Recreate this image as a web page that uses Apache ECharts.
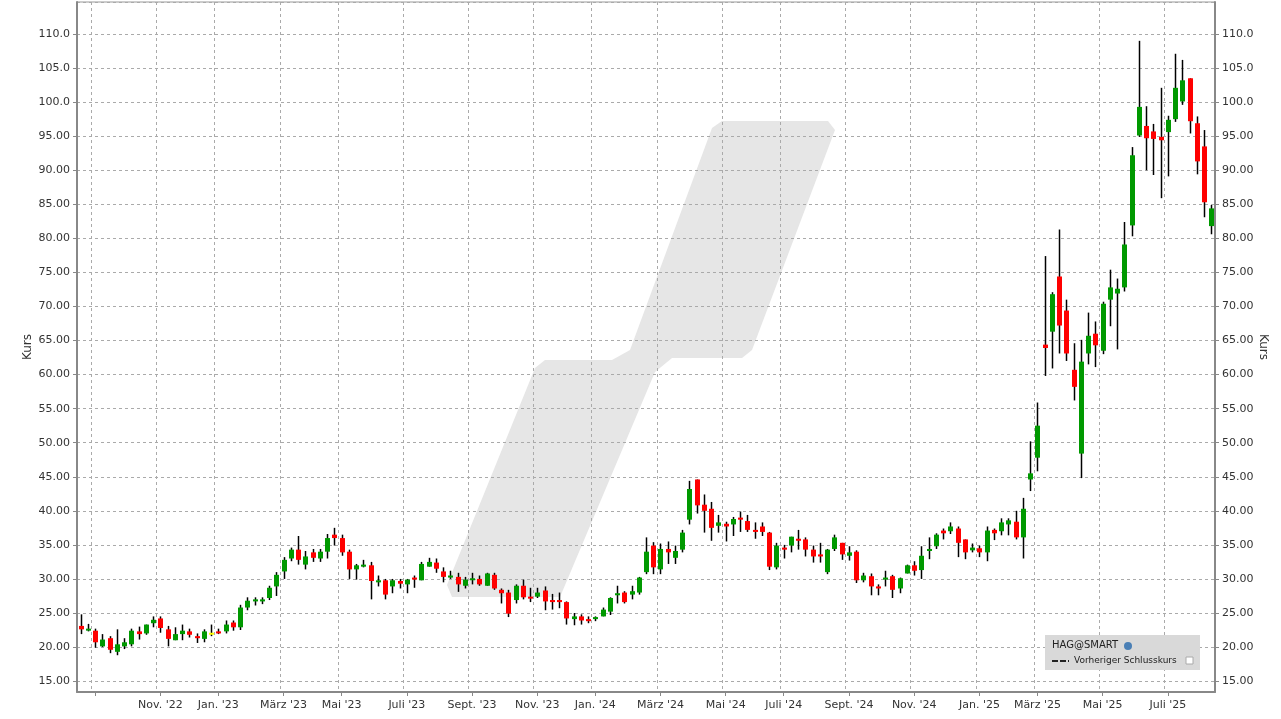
<!DOCTYPE html>
<html><head><meta charset="utf-8">
<script src="https://cdn.jsdelivr.net/npm/echarts@6/dist/echarts.min.js"></script>
<style>html,body{margin:0;padding:0;background:#fff;overflow:hidden}#c{width:1281px;height:719px}</style>
</head><body><div id="c"></div>
<script>
const startDate = '2022-08-22';
const open  = [23.1,22.5,22.4,20.1,21.3,19.3,20.1,20.4,22.3,22.0,23.5,24.2,22.6,21.0,21.9,22.3,21.6,21.2,22.1,22.3,22.3,23.6,22.9,25.8,26.7,26.7,27.2,28.9,31.1,33.0,34.3,32.1,33.9,33.0,34.0,36.5,36.0,34.0,31.4,31.8,32.0,29.5,29.8,28.9,29.7,29.2,30.2,29.8,31.8,32.4,31.1,30.2,30.3,29.0,29.9,30.0,29.0,30.6,28.4,28.0,26.9,29.0,27.4,27.4,28.3,26.9,26.9,26.6,24.1,24.5,24.1,24.1,24.5,25.2,27.6,28.0,27.7,28.0,31.0,34.9,31.4,34.4,33.1,34.3,38.7,44.6,40.9,40.3,37.8,38.1,38.0,39.0,38.5,37.2,37.7,36.8,31.7,34.6,34.9,35.9,35.8,34.3,33.6,31.0,34.4,35.3,33.4,34.0,29.8,30.4,28.9,29.9,30.4,28.6,30.8,32.0,31.3,34.1,34.8,37.1,37.0,37.4,35.8,34.2,34.5,33.9,37.2,37.0,38.0,38.4,36.1,44.6,47.8,64.4,66.3,74.4,69.4,60.7,48.4,63.1,66.0,63.5,71.0,71.9,72.8,81.9,95.1,96.5,95.7,94.9,95.6,97.5,100.1,103.5,96.9,93.5,81.8];
const close = [22.6,22.7,20.7,21.1,19.6,20.4,20.7,22.4,21.9,23.3,24.0,22.8,21.2,21.9,22.4,21.8,21.3,22.3,22.1,22.0,23.3,22.9,25.8,26.8,27.0,27.0,28.7,30.6,32.8,34.3,32.8,33.3,33.1,34.0,36.0,36.0,33.9,31.4,32.0,32.1,29.7,29.8,27.7,29.8,29.3,29.9,29.9,32.2,32.5,31.5,30.3,30.5,29.2,29.9,30.1,29.2,30.8,28.6,27.9,24.9,29.0,27.3,27.2,28.0,26.7,26.6,26.6,24.2,24.5,23.9,23.8,24.4,25.5,27.2,27.9,26.6,28.2,30.2,34.0,31.7,34.4,33.9,34.1,36.8,43.2,40.8,40.0,37.5,38.3,37.7,38.8,38.7,37.2,36.9,36.9,31.8,34.9,34.3,36.2,35.6,34.3,33.3,33.3,34.3,36.1,33.6,33.9,29.8,30.5,28.9,28.6,30.2,28.4,30.1,32.0,31.2,33.4,34.4,36.5,36.7,37.7,35.3,33.9,34.6,33.9,37.1,36.7,38.3,38.6,36.1,40.3,45.5,52.5,63.9,71.8,67.2,63.1,58.2,61.9,65.7,64.3,70.4,72.8,72.6,79.1,92.2,99.3,94.7,94.6,94.4,97.4,102.1,103.2,97.2,91.3,85.3,84.4];
const low   = [21.9,22.3,19.9,20.0,19.1,18.8,19.7,20.1,21.1,21.8,22.9,22.1,20.1,21.0,21.0,21.4,20.6,20.7,21.6,21.9,22.0,22.4,22.5,25.4,26.1,26.3,26.9,27.5,30.0,32.6,32.1,31.4,32.5,32.5,33.0,34.9,33.4,30.0,29.9,31.7,27.0,28.9,27.0,27.9,28.6,27.9,28.7,29.8,31.8,30.9,29.5,30.0,28.1,28.6,29.2,29.0,29.0,28.4,26.4,24.4,26.4,27.0,26.6,27.2,25.4,25.5,25.7,23.3,23.2,23.3,23.5,23.8,24.5,24.7,26.4,26.4,27.0,27.7,30.7,30.7,30.7,32.2,32.2,33.9,38.0,39.6,36.8,35.6,36.8,35.5,36.3,36.9,36.9,35.9,36.3,31.3,31.4,33.0,33.9,34.3,33.3,32.4,32.4,30.7,34.1,32.8,32.7,29.4,29.5,27.6,27.6,28.9,27.2,27.9,30.8,30.5,30.0,32.9,34.4,35.8,36.6,33.2,32.9,33.9,33.2,32.6,35.7,36.4,36.4,35.8,33.0,42.9,45.8,59.8,60.9,63.1,62.0,56.2,44.8,61.5,61.1,63.0,67.1,63.7,72.2,80.3,94.9,90.0,89.3,85.9,89.1,97.1,99.6,95.4,89.4,83.1,80.6];
const high  = [24.8,23.4,22.7,21.9,21.6,22.6,21.3,22.7,23.0,23.3,24.5,24.5,23.1,22.9,23.3,22.7,22.0,22.6,23.3,22.7,23.9,23.9,26.2,27.3,27.3,27.3,29.0,31.0,33.2,34.6,36.3,34.1,34.4,34.4,36.6,37.5,36.5,34.3,32.2,32.8,32.5,30.5,30.0,30.0,30.0,30.0,30.5,32.5,33.1,33.0,31.7,31.2,30.9,30.3,30.9,30.5,30.9,30.9,28.6,28.4,29.2,29.9,28.7,28.7,28.9,27.8,28.0,26.7,25.0,24.8,24.5,24.5,25.8,27.3,29.0,28.2,29.0,30.3,36.1,35.4,35.2,35.5,34.9,37.2,44.4,44.6,42.4,41.3,39.4,38.4,39.1,39.9,39.4,38.3,38.3,36.9,35.3,35.0,36.2,37.2,36.1,34.9,35.3,34.4,36.5,35.3,34.8,34.2,30.9,30.8,29.2,31.2,30.6,30.2,32.1,32.6,34.8,36.1,36.7,37.4,38.3,37.7,35.8,35.2,34.9,37.7,37.4,38.9,38.9,40.0,41.9,50.2,55.9,77.4,72.1,81.3,71.0,64.6,65.1,69.1,67.8,70.7,75.4,74.1,82.4,93.4,109.0,99.4,96.8,102.1,98.0,107.1,106.2,103.5,97.9,95.9,84.9];
const monthNames = ['Jan.','Feb.','März','Apr.','Mai','Juni','Juli','Aug.','Sept.','Okt.','Nov.','Dez.'];

const d0 = new Date(startDate + 'T00:00:00Z');
const cats = open.map((_, i) => new Date(d0.getTime() + i * 7 * 86400000));
const isMark = i => { const d = cats[i]; return d.getUTCDate() <= 7 && d.getUTCMonth() % 2 === 0; };
const catLabels = cats.map(d => monthNames[d.getUTCMonth()] + " '" + String(d.getUTCFullYear()).slice(2));
const data = open.map((o, i) => [i, o, close[i], low[i], high[i]]);

const fmt = v => v >= 100 ? v.toFixed(1) : v.toFixed(2);
const chart = echarts.init(document.getElementById('c'));
const yBase = {
  type: 'value', min: 13.4, max: 114.7, splitNumber: 20,
  name: 'Kurs', nameLocation: 'middle', nameGap: 43, nameMoveOverlap: false,
  nameTextStyle: {color: '#333', fontSize: 12, fontFamily: 'DejaVu Sans'},
  axisLine: {show: true, lineStyle: {color: '#888', width: 2}},
  axisTick: {show: true, length: 4, lineStyle: {color: '#888'}},
  axisLabel: {formatter: fmt, color: '#333', fontSize: 11, fontFamily: 'DejaVu Sans', margin: 7, showMinLabel: false, showMaxLabel: false},
};
chart.setOption({
  animation: false,
  backgroundColor: '#fff',
  grid: {left: 77, right: 66, top: 2, bottom: 27, show: true, borderColor: '#999', borderWidth: 1, outerBoundsMode: 'none', containLabel: false},
  graphic: [
    {type: 'polygon', z: -1, silent: true,
     shape: {points: [[447,585],[535,368],[545,360],[612,360],[630,350],[712,128],[722,121],[828,121],[835,130],[752,350],[742,358],[672,358],[655,372],[560,597],[452,597]]},
     style: {fill: '#e6e6e6'}},
    {type: 'rect', shape: {x: 1045, y: 635, width: 155, height: 35}, style: {fill: '#d9d9d9'}, z: 10},
    {type: 'text', x: 1052, y: 640, style: {text: 'HAG@SMART', fontSize: 10, fontFamily: 'DejaVu Sans', fill: '#222'}, z: 11},
    {type: 'circle', shape: {cx: 1128, cy: 646, r: 4}, style: {fill: '#4a7fb5'}, z: 11},
    {type: 'line', shape: {x1: 1052, y1: 661, x2: 1069, y2: 661}, style: {stroke: '#222', lineWidth: 2, lineDash: [6,2]}, z: 11},
    {type: 'text', x: 1074, y: 656, style: {text: 'Vorheriger Schlusskurs', fontSize: 9, fontFamily: 'DejaVu Sans', fill: '#222'}, z: 11},
    {type: 'rect', shape: {x: 1186, y: 657, width: 7, height: 7}, style: {fill: '#fff', stroke: '#aaa'}, z: 11}
  ],
  xAxis: {
    type: 'category', data: catLabels, boundaryGap: true,
    axisLine: {show: true, lineStyle: {color: '#888', width: 2}},
    axisTick: {show: true, alignWithLabel: true, interval: i => isMark(i), length: 4, lineStyle: {color: '#888'}},
    axisLabel: {interval: i => isMark(i) && i > 5, color: '#333', fontSize: 11, fontFamily: 'DejaVu Sans', margin: 8},
    splitLine: {show: true, interval: i => isMark(i), lineStyle: {color: '#aaa', type: [3,3]}}
  },
  yAxis: [
    Object.assign({}, yBase, {position: 'left', splitLine: {show: true, lineStyle: {color: '#aaa', type: [3,3]}}}),
    Object.assign({}, yBase, {position: 'right', nameGap: 42, nameRotate: -90, splitLine: {show: false}})
  ],
  series: [{
    type: 'custom', data: data, encode: {x: 0, y: [1,2,3,4]}, z: 5,
    renderItem: (params, api) => {
      const i = api.value(0), o = api.value(1), c = api.value(2), l = api.value(3), h = api.value(4);
      const pO = api.coord([i, o]), pC = api.coord([i, c]), pL = api.coord([i, l]), pH = api.coord([i, h]);
      const x = Math.round(pO[0]) + 0.5;
      const color = c > o ? '#009900' : (c < o ? '#ff0000' : '#ffff00');
      const top = Math.min(pO[1], pC[1]), bh = Math.max(Math.abs(pO[1] - pC[1]), 2);
      return {type: 'group', children: [
        {type: 'line', shape: {x1: x, y1: pH[1], x2: x, y2: pL[1]}, style: {stroke: '#000', lineWidth: 1.5}},
        {type: 'rect', shape: {x: x - 2.5, y: top, width: 5, height: bh}, style: {fill: color}}
      ]};
    }
  }]
});
</script></body></html>
